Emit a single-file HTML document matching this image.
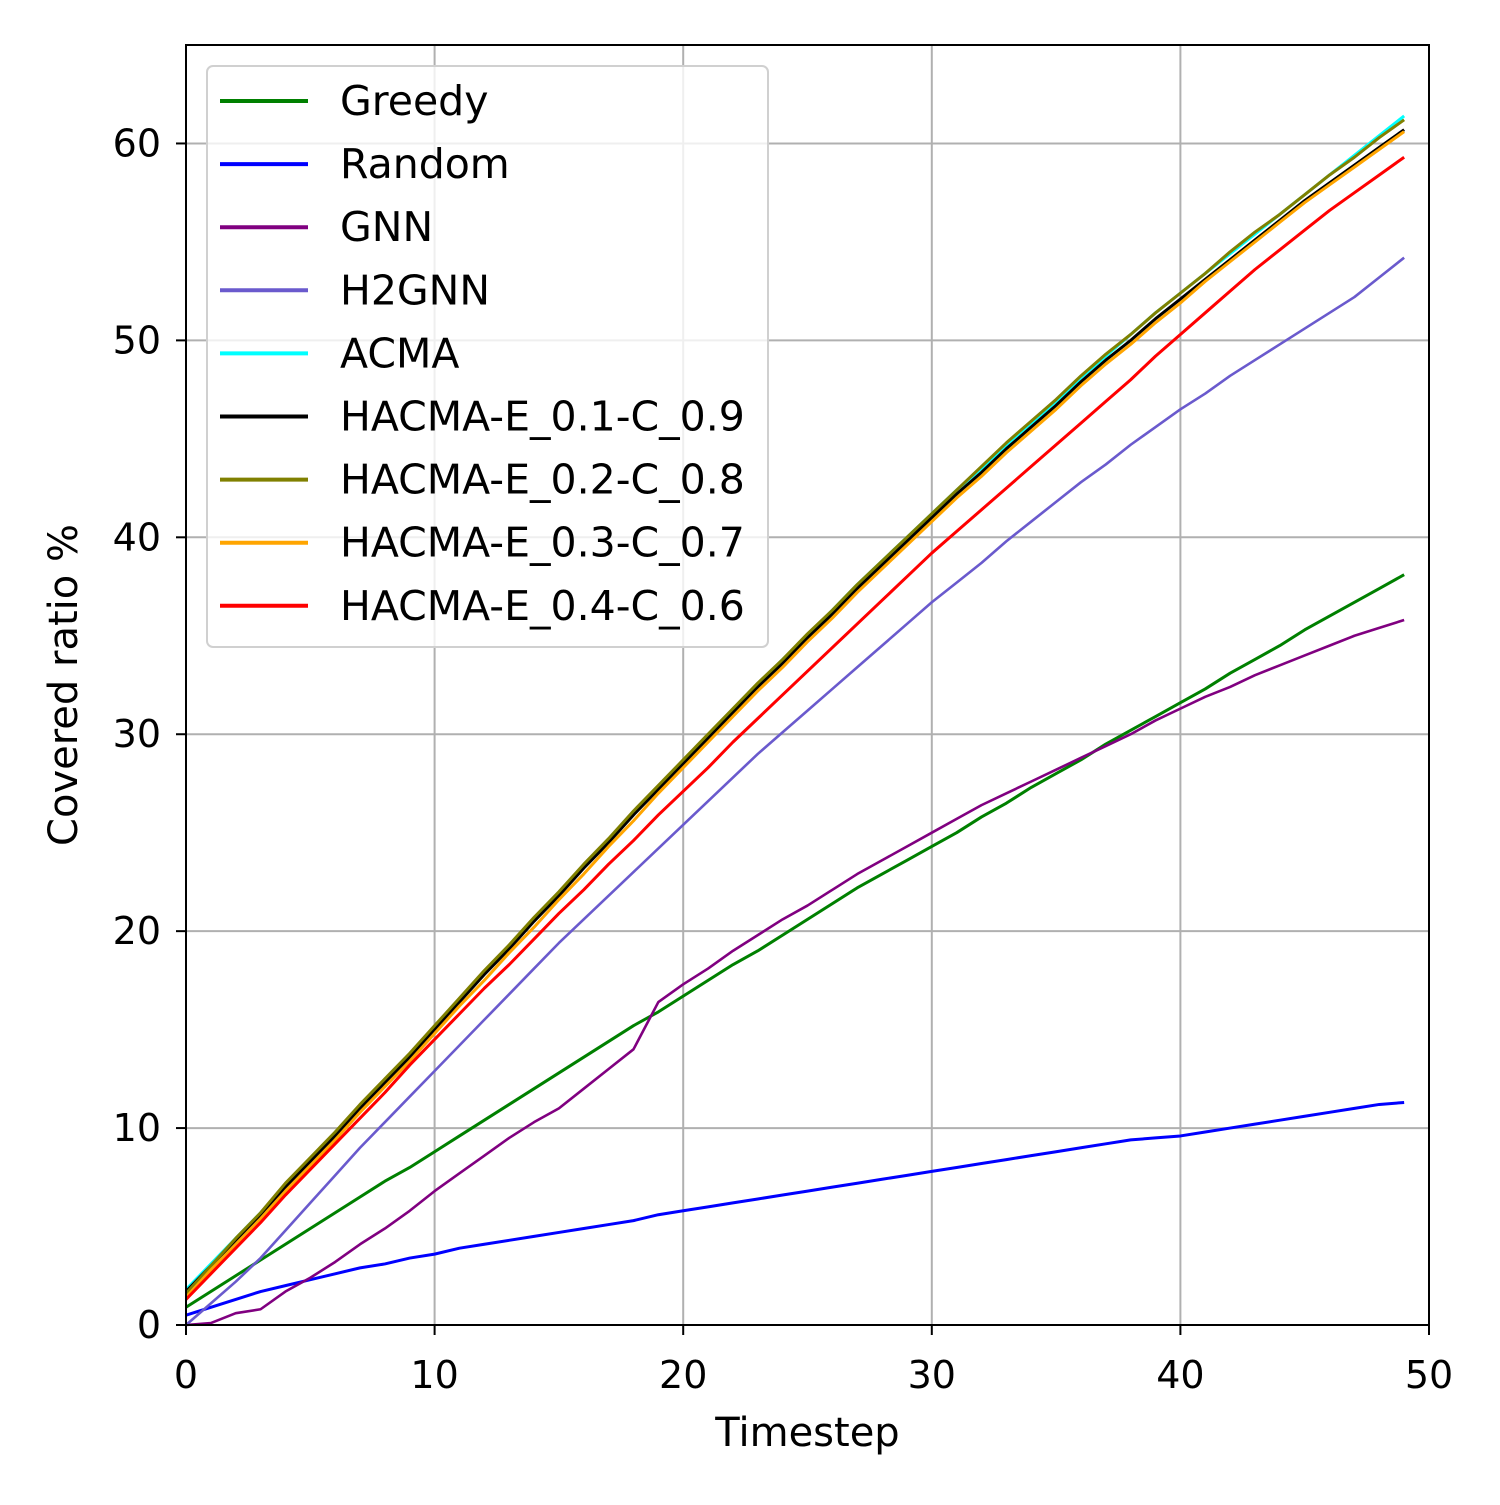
<!DOCTYPE html>
<html><head><meta charset="utf-8"><style>
body{margin:0;background:#fff;}
svg text{font-family:"DejaVu Sans","Liberation Sans",sans-serif;fill:#000;}
</style></head><body>
<svg id="chart" width="1500" height="1500" viewBox="0 0 1500 1500" xmlns="http://www.w3.org/2000/svg">
<rect width="1500" height="1500" fill="#fff"/>
<g id="grid"></g><g id="series"></g><g id="axes"></g><g id="legend"></g>
</svg>
<script>
const xTicks=[0,10,20,30,40,50];
const yTicks=[0,10,20,30,40,50,60];
const greedy=[0.9,1.7,2.5,3.3,4.1,4.9,5.7,6.5,7.3,8.0,8.8,9.6,10.4,11.2,12.0,12.8,13.6,14.4,15.2,15.9,16.7,17.5,18.3,19.0,19.8,20.6,21.4,22.2,22.9,23.6,24.3,25.0,25.8,26.5,27.3,28.0,28.7,29.5,30.2,30.9,31.6,32.3,33.1,33.8,34.5,35.3,36.0,36.7,37.4,38.1];
const random=[0.5,0.9,1.3,1.7,2.0,2.3,2.6,2.9,3.1,3.4,3.6,3.9,4.1,4.3,4.5,4.7,4.9,5.1,5.3,5.6,5.8,6.0,6.2,6.4,6.6,6.8,7.0,7.2,7.4,7.6,7.8,8.0,8.2,8.4,8.6,8.8,9.0,9.2,9.4,9.5,9.6,9.8,10.0,10.2,10.4,10.6,10.8,11.0,11.2,11.3];
const gnn=[0.0,0.1,0.6,0.8,1.7,2.4,3.2,4.1,4.9,5.8,6.8,7.7,8.6,9.5,10.3,11.0,12.0,13.0,14.0,16.4,17.3,18.1,19.0,19.8,20.6,21.3,22.1,22.9,23.6,24.3,25.0,25.7,26.4,27.0,27.6,28.2,28.8,29.4,30.0,30.7,31.3,31.9,32.4,33.0,33.5,34.0,34.5,35.0,35.4,35.8];
const h2gnn=[0.0,1.1,2.2,3.4,4.8,6.2,7.6,9.0,10.3,11.6,12.9,14.2,15.5,16.8,18.1,19.4,20.6,21.8,23.0,24.2,25.4,26.6,27.8,29.0,30.1,31.2,32.3,33.4,34.5,35.6,36.7,37.7,38.7,39.8,40.8,41.8,42.8,43.7,44.7,45.6,46.5,47.3,48.2,49.0,49.8,50.6,51.4,52.2,53.2,54.2];
const acma=[1.8,3.1,4.4,5.7,7.1,8.4,9.7,11.1,12.4,13.7,15.1,16.5,17.9,19.2,20.6,21.9,23.3,24.6,26.0,27.3,28.6,29.9,31.2,32.5,33.8,35.0,36.3,37.6,38.8,40.0,41.2,42.4,43.5,44.7,45.8,46.9,48.1,49.2,50.3,51.4,52.4,53.4,54.4,55.4,56.4,57.4,58.4,59.4,60.4,61.4];
const hacma1=[1.7,3.0,4.3,5.6,7.0,8.3,9.6,11.0,12.3,13.6,15.0,16.4,17.8,19.1,20.5,21.8,23.2,24.5,25.9,27.2,28.5,29.8,31.1,32.4,33.6,34.9,36.1,37.4,38.6,39.8,41.0,42.2,43.3,44.5,45.6,46.7,47.9,49.0,50.0,51.1,52.1,53.1,54.1,55.1,56.1,57.1,58.0,58.9,59.8,60.7];
const hacma2=[1.6,3.0,4.4,5.7,7.2,8.5,9.8,11.2,12.5,13.8,15.2,16.6,18.0,19.3,20.7,22.0,23.4,24.7,26.1,27.4,28.7,30.0,31.3,32.6,33.8,35.1,36.3,37.6,38.8,40.0,41.2,42.4,43.6,44.8,45.9,47.0,48.2,49.3,50.3,51.4,52.4,53.4,54.5,55.5,56.4,57.4,58.4,59.3,60.3,61.2];
const hacma3=[1.4,2.8,4.1,5.4,6.8,8.1,9.4,10.8,12.1,13.4,14.8,16.2,17.5,18.9,20.2,21.6,22.9,24.3,25.6,27.0,28.3,29.6,30.9,32.2,33.4,34.7,35.9,37.2,38.4,39.6,40.8,42.0,43.1,44.3,45.4,46.5,47.7,48.8,49.8,50.9,51.9,53.0,54.0,55.0,56.0,57.0,57.9,58.8,59.7,60.6];
const hacma4=[1.3,2.6,3.9,5.2,6.6,7.9,9.2,10.5,11.8,13.2,14.5,15.8,17.1,18.3,19.6,20.9,22.1,23.4,24.6,25.9,27.1,28.3,29.6,30.8,32.0,33.2,34.4,35.6,36.8,38.0,39.2,40.3,41.4,42.5,43.6,44.7,45.8,46.9,48.0,49.2,50.3,51.4,52.5,53.6,54.6,55.6,56.6,57.5,58.4,59.3];
const seriesNames=["Greedy","Random","GNN","H2GNN","ACMA","HACMA-E_0.1-C_0.9","HACMA-E_0.2-C_0.8","HACMA-E_0.3-C_0.7","HACMA-E_0.4-C_0.6"];
const seriesData=[greedy,random,gnn,h2gnn,acma,hacma1,hacma2,hacma3,hacma4];
const colors=["#008000","#0000ff","#800080","#6a5acd","#00ffff","#000000","#808000","#ffa500","#ff0000"];
const widths=[3,3,2.6,2.6,3,3,3,3,3];
const L=186,R=1429,T=45,B=1325,XMAX=50,YMAX=65;
const sx=v=>L+(R-L)*v/XMAX, sy=v=>B-(B-T)*v/YMAX;
const NS="http://www.w3.org/2000/svg";
function mk(tag,attrs,parent,text){const e=document.createElementNS(NS,tag);for(const k in attrs)e.setAttribute(k,attrs[k]);if(text!==undefined)e.textContent=text;parent.appendChild(e);return e;}
const grid=document.getElementById('grid'),axes=document.getElementById('axes'),ser=document.getElementById('series'),leg=document.getElementById('legend');
xTicks.forEach(t=>{const g=mk('line',{x1:sx(t),x2:sx(t),y1:T,y2:B,stroke:'#b0b0b0','stroke-width':2},grid);


mk('line',{x1:sx(t),x2:sx(t),y1:B,y2:B+10,stroke:'#000','stroke-width':2},axes);
const tx=mk('text',{x:sx(t),y:B+63,'font-size':38,'text-anchor':'middle'},axes,t);

});
yTicks.forEach(t=>{const g=mk('line',{x1:L,x2:R,y1:sy(t),y2:sy(t),stroke:'#b0b0b0','stroke-width':2},grid);


mk('line',{x1:L-10,x2:L,y1:sy(t),y2:sy(t),stroke:'#000','stroke-width':2},axes);
const tx=mk('text',{x:L-25,y:sy(t)+13,'font-size':38,'text-anchor':'end'},axes,t);

});
const fr=mk('rect',{x:L,y:T,width:R-L,height:B-T,fill:'none',stroke:'#000','stroke-width':2},axes);


const xl=mk('text',{x:(L+R)/2,y:1446,'font-size':40,'text-anchor':'middle'},axes,'Timestep');


const yl=mk('text',{x:0,y:0,'font-size':40,'text-anchor':'middle',transform:'translate(77,'+((T+B)/2)+') rotate(-90)'},axes,'Covered ratio %');


seriesData.forEach((d,i)=>{const p=mk('polyline',{points:d.map((v,j)=>sx(j)+','+sy(v)).join(' '),fill:'none',stroke:colors[i],'stroke-width':widths[i],'stroke-linejoin':'round'},ser);

});
const lb=mk('rect',{x:207,y:66,width:561,height:581,rx:6,fill:'#fff','fill-opacity':0.8,stroke:'#d0d0d0','stroke-width':2},leg);


seriesNames.forEach((n,i)=>{const y=101+i*63.1;
const ln=mk('line',{x1:220,x2:308,y1:y,y2:y,stroke:colors[i],'stroke-width':4},leg);


const tx=mk('text',{x:340,y:y+14,'font-size':41},leg,n);

});
</script>
</body></html>
